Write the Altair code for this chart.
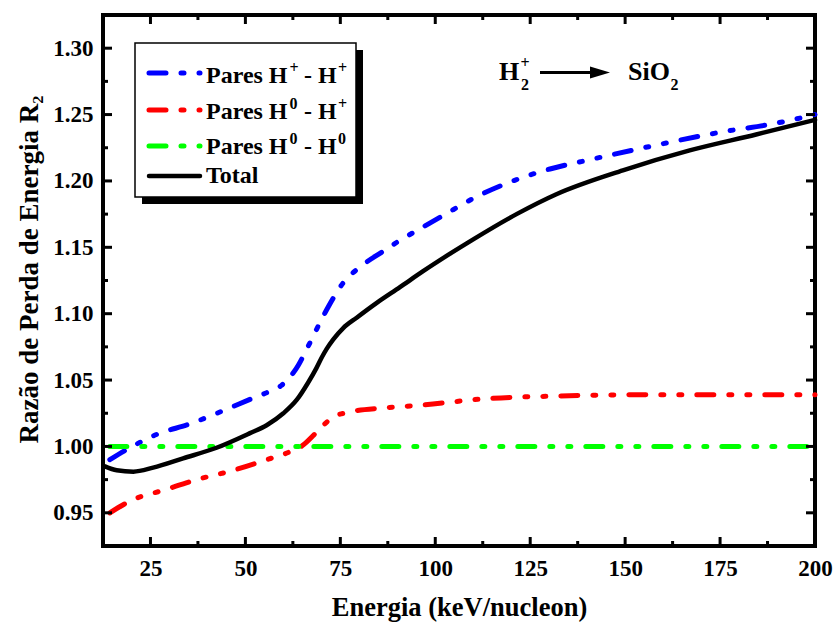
import altair as alt
import pandas as pd

# ---- data ----
blue_x = [14.3, 19.6, 26.6, 35.4, 44.2, 52.5, 56.0, 59.5, 63.9, 66.1, 68.7, 71.8, 75.7, 80.1, 86.3, 90.0, 96.0, 102.1, 110.8, 121.4, 130.2, 140.7, 158.2, 175.7, 188.9, 200.0]
blue_y = [0.990, 0.999, 1.009, 1.017, 1.027, 1.037, 1.041, 1.046, 1.061, 1.073, 1.088, 1.105, 1.123, 1.135, 1.147, 1.154, 1.164, 1.174, 1.188, 1.201, 1.209, 1.216, 1.227, 1.237, 1.243, 1.250]

red_x = [14.3, 20.5, 28.4, 37.2, 46.8, 55.6, 61.7, 65.2, 67.8, 70.5, 73.1, 77.5, 86.3, 95.9, 113.5, 132.8, 160.0, 200.0]
red_y = [0.950, 0.960, 0.967, 0.975, 0.982, 0.990, 0.996, 1.001, 1.008, 1.016, 1.022, 1.026, 1.029, 1.031, 1.036, 1.038, 1.039, 1.039]

green_x = [14.3, 200.0]
green_y = [1.000, 1.000]

black_x = [13.0, 16.1, 20.5, 25.7, 33.6, 42.4, 51.2, 55.6, 60.0, 63.5, 66.5, 68.7, 70.1, 71.4, 73.1, 75.7, 79.3, 84.5, 90.7, 96.8, 103.8, 110.0, 121.4, 131.9, 149.4, 167.0, 184.5, 200.0]
black_y = [0.985, 0.982, 0.981, 0.984, 0.991, 0.999, 1.010, 1.016, 1.025, 1.035, 1.048, 1.059, 1.067, 1.0735, 1.0805, 1.089, 1.097, 1.108, 1.120, 1.132, 1.145, 1.156, 1.175, 1.190, 1.208, 1.223, 1.235, 1.246]

x_major = [25, 50, 75, 100, 125, 150, 175, 200]
x_minor = [37.5, 62.5, 87.5, 112.5, 137.5, 162.5, 187.5]
y_major = [0.95, 1.00, 1.05, 1.10, 1.15, 1.20, 1.25, 1.30]
y_minor = [0.975, 1.025, 1.075, 1.125, 1.175, 1.225, 1.275]

legend_names = ["Pares H", "Pares H", "Pares H", "Total"]
legend_sup1 = ["+", "0", "0"]
legend_mid = ["- H", "- H", "- H"]
legend_sup2 = ["+", "+", "0"]
legend_colors = ["#0000ff", "#ff0000", "#00ff00", "#000000"]

x_title = "Energia (keV/nucleon)"
y_title = "Razão de Perda de Energia R₂"

# ---- layout ----
W, H = 712, 531
FONT = "Liberation Serif"
DASH = [17, 15, 3, 15, 3, 15]

xscale = alt.Scale(domain=[12.5, 200], nice=False, zero=False)
yscale = alt.Scale(domain=[0.925, 1.325], nice=False, zero=False)

xaxis = alt.Axis(title=x_title, values=x_major, format="d", ticks=False, domain=False, grid=False,
                 labelFont=FONT, labelFontSize=23, labelFontWeight="bold", labelColor="black",
                 labelPadding=11, labelFlush=False, titleFont=FONT, titleFontSize=26.5,
                 titleFontWeight="bold", titleColor="black", titlePadding=14)
yaxis = alt.Axis(title=y_title, values=y_major, format=".2f", ticks=False, domain=False, grid=False,
                 labelFont=FONT, labelFontSize=23, labelFontWeight="bold", labelColor="black",
                 labelPadding=10, labelFlush=False, titleFont=FONT, titleFontSize=27,
                 titleFontWeight="bold", titleColor="black", titlePadding=9, titleY=254)

dummy = pd.DataFrame({"a": [0]})


def line(xs, ys, color, dash=None, width=5.0):
    kw = dict(color=color, strokeWidth=width, strokeCap="round", interpolate="monotone")
    if dash:
        kw["strokeDash"] = dash
    df = pd.DataFrame({"x": xs, "y": ys})
    return alt.Chart(df).mark_line(**kw).encode(
        x=alt.X("x:Q", scale=xscale, axis=xaxis),
        y=alt.Y("y:Q", scale=yscale, axis=yaxis),
    )


layers = [
    line(blue_x, blue_y, legend_colors[0], DASH),
    line(red_x, red_y, legend_colors[1], DASH),
    line(green_x, green_y, legend_colors[2], DASH),
    line(black_x, black_y, legend_colors[3], None, 4.5),
]


# inward ticks on all four sides
def xticks(vals, length):
    df = pd.DataFrame({"x": vals})
    base = alt.Chart(df).mark_rule(color="black", strokeWidth=3)
    enc = dict(x=alt.X("x:Q", scale=xscale, axis=xaxis))
    return [base.encode(y=alt.value(H), y2=alt.value(H - length), **enc),
            base.encode(y=alt.value(0), y2=alt.value(length), **enc)]


def yticks(vals, length):
    df = pd.DataFrame({"y": vals})
    base = alt.Chart(df).mark_rule(color="black", strokeWidth=3)
    enc = dict(y=alt.Y("y:Q", scale=yscale, axis=yaxis))
    return [base.encode(x=alt.value(0), x2=alt.value(length), **enc),
            base.encode(x=alt.value(W), x2=alt.value(W - length), **enc)]


layers += xticks(x_major, 9) + xticks(x_minor, 5) + yticks(y_major, 9) + yticks(y_minor, 5)


def txt(x, y, s, size=24, align="left", baseline="alphabetic"):
    return alt.Chart(dummy).mark_text(font=FONT, fontSize=size, fontWeight="bold", color="black",
                                      align=align, baseline=baseline).encode(
        x=alt.value(x), y=alt.value(y), text=alt.value(s))


# legend box with shadow
layers.append(alt.Chart(dummy).mark_rect(color="black").encode(
    x=alt.value(39), x2=alt.value(260), y=alt.value(35), y2=alt.value(189)))
layers.append(alt.Chart(dummy).mark_rect(fill="white", stroke="black", strokeWidth=1.5).encode(
    x=alt.value(32), x2=alt.value(253), y=alt.value(28), y2=alt.value(182)))

sym_y = [58, 95, 131, 161]
txt_y = [67.5, 103.5, 139, 168]
for i, name in enumerate(legend_names):
    kw = dict(color=legend_colors[i], strokeWidth=5 if i < 3 else 4.5, strokeCap="round")
    if i < 3:
        kw["strokeDash"] = DASH
    layers.append(alt.Chart(dummy).mark_rule(**kw).encode(
        x=alt.value(46), x2=alt.value(97), y=alt.value(sym_y[i])))
    layers.append(txt(103, txt_y[i], name))
    if i < 3:
        layers.append(txt(186.5, txt_y[i] - 10, legend_sup1[i], size=16))
        layers.append(txt(201, txt_y[i], legend_mid[i]))
        layers.append(txt(235, txt_y[i] - 10, legend_sup2[i], size=16))

# annotation  H2+ --> SiO2
layers.append(txt(396, 64.5, "H", size=26))
layers.append(txt(422, 52.5, "+", size=16, align="center"))
layers.append(txt(422, 75, "2", size=16, align="center"))
layers.append(alt.Chart(dummy).mark_rule(color="black", strokeWidth=3).encode(
    x=alt.value(437), x2=alt.value(490), y=alt.value(57.5)))
layers.append(alt.Chart(dummy).mark_point(
    shape="M-1,-0.6L1,0L-1,0.6Z", size=400, filled=True, color="black", opacity=1).encode(
    x=alt.value(497), y=alt.value(57.5)))
layers.append(txt(525, 64.5, "SiO", size=26))
layers.append(txt(567.5, 75, "2", size=16))

chart = alt.layer(*layers).properties(
    width=W, height=H,
    autosize=alt.AutoSizeParams(type="none"),
    padding={"left": 103, "top": 15, "right": 18, "bottom": 77},
    background="white",
).configure_view(stroke="black", strokeWidth=4)

chart.save("out.html", embed_options={"renderer": "svg", "actions": False})
